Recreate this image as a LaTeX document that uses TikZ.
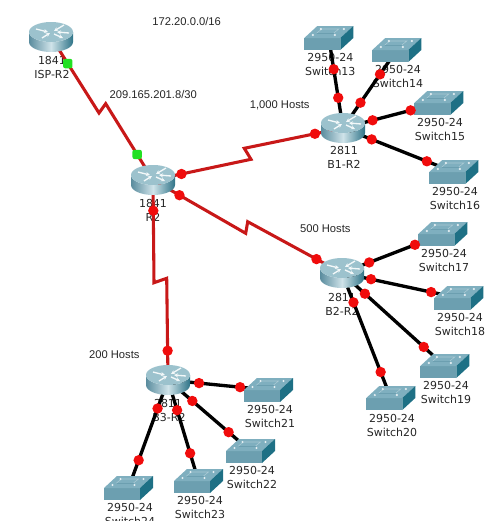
\documentclass[tikz,border=0pt]{standalone}
\usepackage{fontspec}
\setmainfont{DejaVu Sans}
\newfontfamily\notefont{Liberation Sans}
\usetikzlibrary{calc,arrows.meta}
\pgfdeclarelayer{devices}
\pgfdeclarelayer{dots}
\pgfsetlayers{main,devices,dots}
\definecolor{serialred}{HTML}{C81818}
\definecolor{portred}{HTML}{F00C0C}
\definecolor{portgreen}{HTML}{22E022}
\definecolor{swfront}{HTML}{6C9FB0}
\definecolor{swtop}{HTML}{7FAFBF}
\definecolor{swside}{HTML}{1E7085}
\definecolor{rttop}{HTML}{9CC2CD}
\definecolor{rtlo}{HTML}{5A8C9E}
\definecolor{rthi}{HTML}{CFE3E9}
\definecolor{rtdk}{HTML}{2F7488}
\tikzset{
  anchorpt/.style={inner sep=0pt,minimum size=0pt,outer sep=0pt},
  devlabel/.style={inner sep=0pt,font=\fontsize{8.25}{10}\selectfont,text=black!85},
  notelabel/.style={inner sep=0pt,font=\notefont\fontsize{8.4}{10}\selectfont,text=black!85},
  serial/.style={draw=serialred,line width=2.3pt,line join=miter},
  ether/.style={draw=black,line width=2.5pt},
  portdot/.style={circle,fill=portred,inner sep=0pt,minimum size=7.8pt},
  upport/.style={rectangle,rounded corners=1.5pt,fill=portgreen,inner sep=0pt,minimum size=7pt},
  rtarrow/.style={draw=white!88!rttop,line width=1pt,-{Stealth[length=3pt,width=3pt]}}
}
% device art
\newcommand{\routerart}[1]{%
  \begin{pgfonlayer}{devices}
  \begin{scope}[shift={(#1)}]
    \shade[left color=rtlo,right color=rtdk,middle color=rthi]
      (-22,-5) arc [start angle=180,end angle=360,x radius=16.5pt,y radius=7.5pt]
      -- (22,-5) -- (22,5) arc [start angle=0,end angle=-180,x radius=16.5pt,y radius=7.5pt] -- cycle;
    \fill[rttop] (0,-5) ellipse [x radius=16.5pt,y radius=7.5pt];
    \draw[rtarrow] (-15,-8) -- (-3,-5);
    \draw[rtarrow] (-9,1) -- (-1,-4);
    \draw[rtarrow] (13,-12) -- (3,-6);
    \draw[rtarrow] (3,-3) -- (12,1);
    \draw[rtarrow] (18,-4) -- (6,-5);
  \end{scope}
  \end{pgfonlayer}}
\newcommand{\switchart}[1]{%
  \begin{pgfonlayer}{devices}
  \begin{scope}[shift={(#1)}]
    \fill[swfront] (-24.5,0) rectangle (11.5,12);
    \fill[swtop] (-24.5,0) -- (-11.5,-12) -- (24.5,-12) -- (11.5,0) -- cycle;
    \fill[swside] (11.5,0) -- (24.5,-12) -- (24.5,0) -- (11.5,12) -- cycle;
    \draw[white!35!swtop,line width=.4pt] (-12,-5) -- (-7,-9) -- (10,-9) -- (5,-5);
    \draw[swfront,line width=.4pt] (-12,-5) -- (5,-5);
    \foreach \p in {(-16,-3),(-8,-9),(6,-3),(15,-9)} \fill[white!80!swtop] \p circle (.9pt);
  \end{scope}
  \end{pgfonlayer}}
% a dot on the line from a to b, nearest to the point given
\newcommand{\portat}[5][portdot]{%
  \begin{pgfonlayer}{dots}
  \node[#1] (#2) at ($(#3)!(#5)!(#4)$) {};
  \end{pgfonlayer}}
\begin{document}
\begin{tikzpicture}[x=.75pt,y=-.75pt]
\clip (0,0) rectangle (502,521);
% routers
\node[anchorpt] (ISP) at (51,37) {};
\node[anchorpt] (R2) at (153,180) {};
\node[anchorpt] (B1) at (343,128) {};
\node[anchorpt] (B2) at (342,273) {};
\node[anchorpt] (B3) at (168,380) {};
% switches
\node[anchorpt] (S13) at (328.8,38) {};
\node[anchorpt] (S14) at (396.8,50) {};
\node[anchorpt] (S15) at (438.8,103) {};
\node[anchorpt] (S16) at (453.8,172) {};
\node[anchorpt] (S17) at (442.8,234) {};
\node[anchorpt] (S18) at (458.8,298) {};
\node[anchorpt] (S19) at (444.8,366) {};
\node[anchorpt] (S20) at (390.8,398) {};
\node[anchorpt] (S21) at (268.5,390) {};
\node[anchorpt] (S22) at (250.5,451) {};
\node[anchorpt] (S23) at (198.5,481) {};
\node[anchorpt] (S24) at (128.5,488) {};
% labels
\node[devlabel] (lISPa) at (52,60) {1841};
\node[devlabel] (lISPb) at (52,74) {ISP-R2};
\node[devlabel] (lR2a) at (153,203) {1841};
\node[devlabel] (lR2b) at (153,217) {R2};
\node[devlabel] (lB1a) at (344,150) {2811};
\node[devlabel] (lB1b) at (344,164) {B1-R2};
\node[devlabel] (lB2a) at (342,297) {2811};
\node[devlabel] (lB2b) at (342,311) {B2-R2};
\node[devlabel] (lB3a) at (168,403) {2811};
\node[devlabel] (lB3b) at (169,417) {B3-R2};
\node[devlabel] (l13a) at (330.3,57) {2950-24};
\node[devlabel] (l13b) at (330.3,71) {Switch13};
\node[devlabel] (l14a) at (398,69) {2950-24};
\node[devlabel] (l14b) at (398,83) {Switch14};
\node[devlabel] (l15a) at (440,122) {2950-24};
\node[devlabel] (l15b) at (440,136) {Switch15};
\node[devlabel] (l16a) at (455,191) {2950-24};
\node[devlabel] (l16b) at (455,205) {Switch16};
\node[devlabel] (l17a) at (444,253) {2950-24};
\node[devlabel] (l17b) at (444,267) {Switch17};
\node[devlabel] (l18a) at (460,317) {2950-24};
\node[devlabel] (l18b) at (460,331) {Switch18};
\node[devlabel] (l19a) at (446,385) {2950-24};
\node[devlabel] (l19b) at (446,399) {Switch19};
\node[devlabel] (l20a) at (392,418) {2950-24};
\node[devlabel] (l20b) at (392,432) {Switch20};
\node[devlabel] (l21a) at (270,409) {2950-24};
\node[devlabel] (l21b) at (270,423) {Switch21};
\node[devlabel] (l22a) at (252,470) {2950-24};
\node[devlabel] (l22b) at (252,484) {Switch22};
\node[devlabel] (l23a) at (200,500) {2950-24};
\node[devlabel] (l23b) at (200,514) {Switch23};
\node[devlabel] (l24a) at (130,507) {2950-24};
\node[devlabel] (l24b) at (130,521) {Switch24};
\node[notelabel] (nNet) at (186.7,21) {172.20.0.0/16};
\node[notelabel] (nWan) at (153.3,94.3) {209.165.201.8/30};
\node[notelabel] (n1000) at (279.7,105.3) {1,000 Hosts};
\node[notelabel] (n500) at (325.3,228.3) {500 Hosts};
\node[notelabel] (n200) at (114.3,355) {200 Hosts};
% serial links
\coordinate (k1a) at (99,113);
\coordinate (k1b) at (105.7,103.7);
\coordinate (k2a) at (251,159.3);
\coordinate (k2b) at (244.3,148.3);
\coordinate (k3a) at (245.7,233.3);
\coordinate (k3b) at (247.7,221.7);
\coordinate (k4a) at (154,282.7);
\coordinate (k4b) at (166.7,278.3);
\draw[serial] (ISP) -- (k1a) -- (k1b) -- (R2);
\draw[serial] (R2) -- (k2a) -- (k2b) -- (B1);
\draw[serial] (R2) -- (k3a) -- (k3b) -- (B2);
\draw[serial] (R2) -- (k4a) -- (k4b) -- (B3);
% switch links
\foreach \a/\b in {B1/S13,B1/S14,B1/S15,B1/S16,B2/S17,B2/S18,B2/S19,B2/S20,B3/S21,B3/S22,B3/S23,B3/S24}
  \draw[ether] (\a) -- (\b);
% device drawings
\foreach \n in {ISP,R2,B1,B2,B3} {\routerart{\n}}
\foreach \n in {S13,S14,S15,S16,S17,S18,S19,S20,S21,S22,S23,S24} {\switchart{\n}}
% ports
\portat[upport]{p1}{ISP}{k1a}{67.7,63.7}
\portat[upport]{p2}{k1b}{R2}{136.7,154.7}
\portat{p3}{R2}{k2a}{181.7,175}
\portat{p4}{k2b}{B1}{315,134}
\portat{p5}{R2}{k3a}{179,196}
\portat{p6}{k3b}{B2}{316,260}
\portat{p7}{R2}{k4a}{153.7,210.7}
\portat{p8}{k4b}{B3}{167.7,350.7}
\portat{p9}{B1}{S13}{338.7,97.7}
\portat{p10}{B1}{S13}{335,69}
\portat{p11}{B1}{S14}{361,103}
\portat{p12}{B1}{S14}{381,75}
\portat{p13}{B1}{S15}{372.7,120.7}
\portat{p14}{B1}{S15}{410.7,110.7}
\portat{p15}{B1}{S16}{372,138.7}
\portat{p16}{B1}{S16}{426.7,161.7}
\portat{p17}{B2}{S17}{369.7,263.7}
\portat{p18}{B2}{S17}{415.3,245.7}
\portat{p19}{B2}{S18}{370.7,280.7}
\portat{p20}{B2}{S18}{431,292.7}
\portat{p21}{B2}{S19}{364,294.7}
\portat{p22}{B2}{S19}{423.7,347}
\portat{p23}{B2}{S20}{352.7,302.7}
\portat{p24}{B2}{S20}{380.7,372}
\portat{p25}{B3}{S21}{199,383.7}
\portat{p26}{B3}{S21}{240,388}
\portat{p27}{B3}{S22}{192.3,401}
\portat{p28}{B3}{S22}{229,431.7}
\portat{p29}{B3}{S23}{177.7,410}
\portat{p30}{B3}{S23}{191,453}
\portat{p31}{B3}{S24}{159,409}
\portat{p32}{B3}{S24}{140,460.7}
\end{tikzpicture}
\end{document}
